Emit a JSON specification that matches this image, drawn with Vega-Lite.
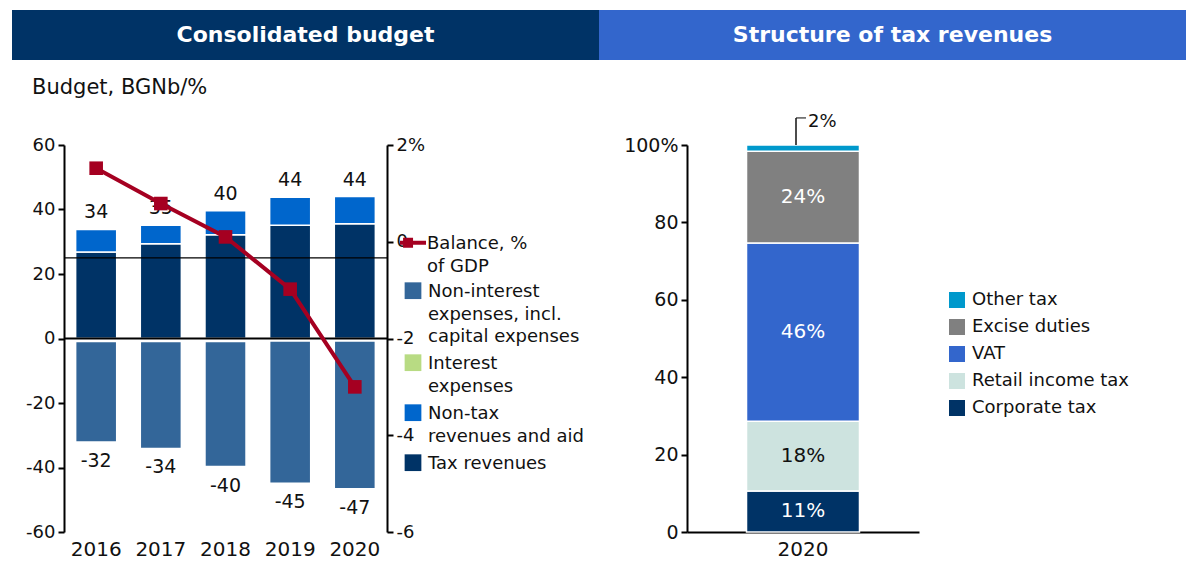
{
  "$schema": "https://vega.github.io/schema/vega-lite/v6.json",
  "padding": {"left": 12, "top": 10, "right": 0, "bottom": 0},
  "background": "white",
  "bounds": "flush",
  "spacing": 85,
  "resolve": {"scale": {"color": "independent", "fill": "independent", "stroke": "independent"}, "legend": {"color": "independent", "fill": "independent", "stroke": "independent"}},
  "config": {
    "view": {"stroke": null},
    "font": "DejaVu Sans",
    "locale": {"number": {"decimal": ".", "thousands": ",", "grouping": [3], "currency": ["$", ""], "minus": "-"}},
    "axis": {"labelFont": "DejaVu Sans", "labelColor": "#111", "domainColor": "#000", "domainWidth": 2, "tickColor": "#000", "tickWidth": 2, "tickSize": 6, "grid": false},
    "legend": {"labelFont": "DejaVu Sans", "labelColor": "#111", "padding": 0, "titlePadding": 0},
    "style": {"guide-label": {"lineHeight": 22.5}}
  },
  "vconcat": [
    {
      "width": 1174,
      "height": 50,
      "data": {"values": [{"panel": "Consolidated budget"}, {"panel": "Structure of tax revenues"}]},
      "encoding": {"x": {"field": "panel", "type": "nominal", "axis": null, "sort": null, "scale": {"paddingInner": 0, "paddingOuter": 0}}},
      "layer": [
        {"mark": {"type": "bar"}, "encoding": {"color": {"field": "panel", "type": "nominal", "legend": null, "sort": null, "scale": {"range": ["#003366", "#3366CC"]}}}},
        {"mark": {"type": "text", "color": "white", "fontSize": 22, "fontWeight": "bold", "font": "DejaVu Sans"}, "encoding": {"text": {"field": "panel"}}}
      ]
    },
    {
      "bounds": "flush",
      "spacing": 0,
      "resolve": {"scale": {"color": "independent", "fill": "independent", "stroke": "independent"}, "legend": {"color": "independent", "fill": "independent", "stroke": "independent"}},
      "hconcat": [
        {"width": 52, "height": 387, "data": {"values": []}, "mark": {"type": "point", "opacity": 0}},
        {
          "width": 323,
          "height": 387,
          "title": {"text": "Budget, BGNb/%", "anchor": "start", "frame": "group", "dx": -32, "offset": 38, "fontSize": 21, "fontWeight": "normal", "color": "#111", "font": "DejaVu Sans"},
          "layer": [
            {
              "data": {"values": [
                {"year": "2016", "series": "Tax revenues", "value": 26.8},
                {"year": "2016", "series": "Non-tax revenues and aid", "value": 7.0},
                {"year": "2016", "series": "Interest expenses", "value": -0.9},
                {"year": "2016", "series": "Non-interest expenses, incl. capital expenses", "value": -31.2},
                {"year": "2017", "series": "Tax revenues", "value": 29.4},
                {"year": "2017", "series": "Non-tax revenues and aid", "value": 5.7},
                {"year": "2017", "series": "Interest expenses", "value": -0.9},
                {"year": "2017", "series": "Non-interest expenses, incl. capital expenses", "value": -33.2},
                {"year": "2018", "series": "Tax revenues", "value": 32.2},
                {"year": "2018", "series": "Non-tax revenues and aid", "value": 7.4},
                {"year": "2018", "series": "Interest expenses", "value": -0.9},
                {"year": "2018", "series": "Non-interest expenses, incl. capital expenses", "value": -38.8},
                {"year": "2019", "series": "Tax revenues", "value": 35.1},
                {"year": "2019", "series": "Non-tax revenues and aid", "value": 8.7},
                {"year": "2019", "series": "Interest expenses", "value": -0.8},
                {"year": "2019", "series": "Non-interest expenses, incl. capital expenses", "value": -44.1},
                {"year": "2020", "series": "Tax revenues", "value": 35.6},
                {"year": "2020", "series": "Non-tax revenues and aid", "value": 8.4},
                {"year": "2020", "series": "Interest expenses", "value": -0.8},
                {"year": "2020", "series": "Non-interest expenses, incl. capital expenses", "value": -45.8}
              ]},
              "layer": [
                {
                  "mark": {"type": "bar", "stroke": "white", "strokeWidth": 1.5},
                  "encoding": {
                    "x": {"field": "year", "type": "nominal", "title": null, "scale": {"paddingInner": 0.365, "paddingOuter": 0.18}, "axis": {"labelFontSize": 20, "ticks": false, "domain": false, "labelPadding": 7, "labelAngle": 0}},
                    "y": {"field": "value", "type": "quantitative", "stack": "zero", "title": null, "scale": {"domain": [-60, 60], "nice": false}, "axis": {"orient": "left", "values": [-60, -40, -20, 0, 20, 40, 60], "labelFontSize": 18, "labelPadding": 3, "labelExpr": "datum.value"}},
                    "fill": {"field": "series", "type": "nominal", "scale": {"domain": ["Non-interest expenses, incl. capital expenses", "Interest expenses", "Non-tax revenues and aid", "Tax revenues"], "range": ["#336699", "#B8DB83", "#0066CC", "#003366"]},
                      "legend": {"orient": "none", "legendX": 340, "legendY": 129, "title": null, "labelFontSize": 18, "labelBaseline": "top", "labelOffset": 6, "labelLimit": 400, "symbolType": "M-1,-0.08H1V1.92H-1Z", "symbolSize": 280, "symbolStrokeWidth": 0, "rowPadding": -3.5,
                        "labelExpr": "datum.label == 'Non-interest expenses, incl. capital expenses' ? ['Non-interest', 'expenses, incl.', 'capital expenses'] : datum.label == 'Interest expenses' ? ['Interest', 'expenses'] : datum.label == 'Non-tax revenues and aid' ? ['Non-tax', 'revenues and aid'] : datum.label"}},
                    "order": {"field": "value", "type": "quantitative", "sort": "descending"},
                    "fillOpacity": {"condition": {"test": "datum.series === 'Interest expenses'", "value": 0}, "value": 1}
                  }
                },
                {
                  "transform": [{"filter": "datum.value > 0"}, {"aggregate": [{"op": "sum", "field": "value", "as": "total"}], "groupby": ["year"]}],
                  "mark": {"type": "text", "dy": -17, "fontSize": 19, "color": "#111", "baseline": "middle"},
                  "encoding": {
                    "x": {"field": "year", "type": "nominal", "title": null},
                    "y": {"field": "total", "type": "quantitative", "title": null},
                    "text": {"field": "total", "type": "quantitative", "format": ".0f"}
                  }
                },
                {
                  "transform": [{"filter": "datum.value < 0"}, {"aggregate": [{"op": "sum", "field": "value", "as": "total"}], "groupby": ["year"]}],
                  "mark": {"type": "text", "dy": 19, "fontSize": 19, "color": "#111", "baseline": "middle"},
                  "encoding": {
                    "x": {"field": "year", "type": "nominal", "title": null},
                    "y": {"field": "total", "type": "quantitative", "title": null},
                    "text": {"field": "total", "type": "quantitative", "format": ".0f"}
                  }
                },
                {
                  "data": {"values": [{"ref": 0}]},
                  "mark": {"type": "rule", "color": "#000", "strokeWidth": 2},
                  "encoding": {"y": {"field": "ref", "type": "quantitative", "title": null}}
                },
                {
                  "data": {"values": [{"ref": 25}]},
                  "mark": {"type": "rule", "color": "#000", "strokeWidth": 1.2},
                  "encoding": {"y": {"field": "ref", "type": "quantitative", "title": null}}
                }
              ]
            },
            {
              "data": {"values": [
                {"year": "2016", "series": "Balance, % of GDP", "balance": 1.52},
                {"year": "2017", "series": "Balance, % of GDP", "balance": 0.79},
                {"year": "2018", "series": "Balance, % of GDP", "balance": 0.1},
                {"year": "2019", "series": "Balance, % of GDP", "balance": -0.98},
                {"year": "2020", "series": "Balance, % of GDP", "balance": -3.0}
              ]},
              "encoding": {
                "x": {"field": "year", "type": "nominal", "title": null},
                "y": {"field": "balance", "type": "quantitative", "title": null, "scale": {"domain": [-6, 2], "nice": false}, "axis": {"orient": "right", "values": [-6, -4, -2, 0, 2], "labelFontSize": 18, "labelPadding": 3, "labelExpr": "datum.value == 2 ? '2%' : datum.value"}}
              },
              "layer": [
                {
                  "mark": {"type": "line", "strokeWidth": 4},
                  "encoding": {
                    "stroke": {"field": "series", "type": "nominal", "scale": {"range": ["#A50021"]},
                      "legend": {"orient": "none", "legendX": 334, "legendY": 75, "title": null, "labelFontSize": 18, "labelBaseline": "top", "labelOffset": -1, "labelLimit": 400, "labelExpr": "['Balance, %', 'of GDP']", "symbolType": "M-1,0.59H1M-0.61,0.36H-0.15V0.82H-0.61Z", "symbolSize": 676, "symbolStrokeWidth": 4, "symbolFillColor": "#A50021"}}
                  }
                },
                {
                  "mark": {"type": "point", "shape": "square", "filled": true, "size": 185, "color": "#A50021", "opacity": 1}
                }
              ]
            }
          ],
          "resolve": {"scale": {"y": "independent"}}
        },
        {"width": 300, "height": 387, "data": {"values": []}, "mark": {"type": "point", "opacity": 0}},
        {
          "width": 232,
          "height": 387,
          "data": {"values": [
            {"year": "2020", "series": "Corporate tax", "share": 0.106},
            {"year": "2020", "series": "Retail income tax", "share": 0.18},
            {"year": "2020", "series": "VAT", "share": 0.461},
            {"year": "2020", "series": "Excise duties", "share": 0.237},
            {"year": "2020", "series": "Other tax", "share": 0.016}
          ]},
          "transform": [{"stack": "share", "groupby": ["year"], "as": ["lo", "hi"]}],
          "encoding": {
            "x": {"field": "year", "type": "nominal", "title": null, "scale": {"paddingInner": 0.345, "paddingOuter": 0.345}, "axis": {"labelFontSize": 20, "ticks": false, "labelPadding": 7, "labelAngle": 0}}
          },
          "layer": [
            {
              "mark": {"type": "bar", "stroke": "white", "strokeWidth": 1.5},
              "encoding": {
                "y": {"field": "lo", "type": "quantitative", "title": null, "scale": {"domain": [0, 1], "nice": false}, "axis": {"values": [0, 0.2, 0.4, 0.6, 0.8, 1], "labelFontSize": 19, "labelPadding": 3, "labelExpr": "datum.value == 1 ? '100%' : round(datum.value * 100)"}},
                "y2": {"field": "hi"},
                "fill": {"field": "series", "type": "nominal", "scale": {"domain": ["Other tax", "Excise duties", "VAT", "Retail income tax", "Corporate tax"], "range": ["#0099CC", "#808080", "#3366CC", "#CDE3DF", "#003366"]},
                  "legend": {"orient": "none", "legendX": 261, "legendY": 146, "title": null, "labelFontSize": 18, "labelOffset": 6, "labelLimit": 400, "symbolType": "square", "symbolSize": 256, "symbolStrokeWidth": 0, "rowPadding": 9}}
              }
            },
            {
              "transform": [
                {"filter": "datum.series !== 'Other tax'"},
                {"fold": ["lo", "hi"], "as": ["edge", "pos"]},
                {"aggregate": [{"op": "mean", "field": "pos", "as": "mid"}, {"op": "max", "field": "share", "as": "share"}], "groupby": ["year", "series"]}
              ],
              "mark": {"type": "text", "fontSize": 20, "baseline": "middle"},
              "encoding": {
                "y": {"field": "mid", "type": "quantitative", "title": null},
                "text": {"field": "share", "type": "quantitative", "format": ".0%"},
                "color": {"condition": {"test": "datum.series === 'Retail income tax'", "value": "#111"}, "value": "white"}
              }
            },
            {
              "transform": [{"filter": "datum.series === 'Other tax'"}],
              "mark": {"type": "rule", "color": "#111", "strokeWidth": 1.5, "xOffset": -7},
              "encoding": {"y": {"field": "hi", "type": "quantitative", "title": null}, "y2": {"datum": 1.07}}
            },
            {
              "transform": [{"filter": "datum.series === 'Other tax'"}],
              "mark": {"type": "tick", "size": 10, "thickness": 1.5, "color": "#111", "xOffset": -2, "orient": "horizontal"},
              "encoding": {"y": {"datum": 1.07}}
            },
            {
              "transform": [{"filter": "datum.series === 'Other tax'"}],
              "mark": {"type": "text", "align": "left", "baseline": "middle", "fontSize": 18, "xOffset": 5, "dy": 4, "color": "#111"},
              "encoding": {"y": {"datum": 1.07}, "text": {"field": "share", "type": "quantitative", "format": ".0%"}}
            }
          ]
        }
      ]
    }
  ]
}
